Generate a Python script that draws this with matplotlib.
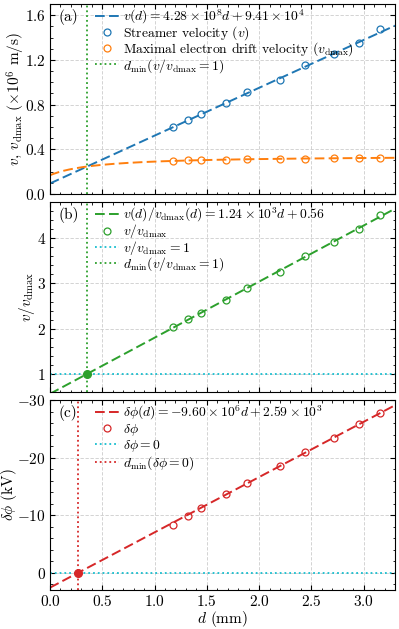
import numpy as np
import matplotlib
matplotlib.use("Agg")
import matplotlib.pyplot as plt
from matplotlib.ticker import MultipleLocator

plt.rcParams.update({
    "font.family": "serif",
    "font.serif": ["cmr10"],
    "mathtext.fontset": "cm",
    "axes.formatter.use_mathtext": True,
    "axes.unicode_minus": True,
    "font.size": 10,
    "xtick.direction": "in",
    "ytick.direction": "in",
    "xtick.top": True,
    "ytick.right": True,
    "xtick.minor.visible": True,
    "ytick.minor.visible": True,
    "xtick.major.size": 3.5,
    "ytick.major.size": 3.5,
    "xtick.minor.size": 1.8,
    "ytick.minor.size": 1.8,
    "axes.linewidth": 0.8,
})

# ---- data (d in mm) ----
d = [1.18, 1.32, 1.44, 1.68, 1.88, 2.20, 2.44, 2.72, 2.96, 3.16]
v = [0.598, 0.664, 0.715, 0.810, 0.909, 1.023, 1.151, 1.253, 1.349, 1.474]   # 1e6 m/s
v_dmax = [0.296, 0.302, 0.305, 0.308, 0.311, 0.314, 0.317, 0.320, 0.320, 0.323]
ratio = [2.03, 2.21, 2.35, 2.63, 2.90, 3.26, 3.61, 3.91, 4.21, 4.52]
dphi = [-8.28, -9.84, -11.29, -13.67, -15.52, -18.47, -21.02, -23.39, -25.77, -27.74]  # kV

# fit parameters (SI units, as in legend)
v_slope, v_icpt = 4.28e8, 9.41e4
r_slope, r_icpt = 1.24e3, 0.56
p_slope, p_icpt = -9.60e6, 2.59e3

d_fit = np.linspace(0, 3.3, 200)
v_fit = (v_slope * d_fit * 1e-3 + v_icpt) / 1e6
r_fit = r_slope * d_fit * 1e-3 + r_icpt
vd_fit = v_fit / r_fit
p_fit = (p_slope * d_fit * 1e-3 + p_icpt) / 1e3
d_min_r = (1 - r_icpt) / r_slope * 1e3
d_min_p = -p_icpt / p_slope * 1e3

c_blue, c_orange, c_green, c_red, c_cyan = "#1f77b4", "#ff7f0e", "#2ca02c", "#d62728", "#17becf"

fig = plt.figure(figsize=(3.99, 6.29), dpi=100)
W, H = 399, 629
left, right = 50 / W, 395 / W
panels = [(4, 194), (202, 392), (400, 590)]
axes = []
for top, bot in panels:
    ax = fig.add_axes([left, 1 - bot / H, right - left, (bot - top) / H])
    axes.append(ax)

dash = (0, (5, 2.2))
lw = 1.4
ms = 5
mew = 0.9

for ax in axes:
    ax.set_xlim(0, 3.3)
    ax.grid(True, which="major", color="#cccccc", linestyle=(0, (4, 2)), linewidth=0.6)
    ax.set_axisbelow(True)
    ax.xaxis.set_major_locator(MultipleLocator(0.5))
    ax.xaxis.set_minor_locator(MultipleLocator(0.1))

# (a)
ax = axes[0]
ax.plot(d_fit, v_fit, ls=dash, color=c_blue, lw=lw,
        label=r"$v(d) = 4.28\times10^{8}d + 9.41\times10^{4}$")
ax.plot(d, v, "o", mfc="none", mec=c_blue, ms=ms, mew=mew, label=r"Streamer velocity ($v$)")
ax.plot(d_fit, vd_fit, ls=dash, color=c_orange, lw=lw)
ax.plot(d, v_dmax, "o", mfc="none", mec=c_orange, ms=ms, mew=mew,
        label=r"Maximal electron drift velocity ($v_\mathrm{dmax}$)")
ax.axvline(d_min_r, color=c_green, ls=":", lw=1.3,
           label=r"$d_\mathrm{min}(v/v_\mathrm{dmax}=1)$")
ax.set_ylim(0, 1.7)
ax.yaxis.set_major_locator(MultipleLocator(0.4))
ax.yaxis.set_minor_locator(MultipleLocator(0.1))
ax.set_ylabel(r"$v$, $v_\mathrm{dmax}$ ($\times10^6$ m/s)", fontsize=11)
ax.set_xticklabels([])

# (b)
ax = axes[1]
ax.plot(d_fit, r_fit, ls=dash, color=c_green, lw=lw,
        label=r"$v(d)/v_\mathrm{dmax}(d) = 1.24\times10^{3}d + 0.56$")
ax.plot(d, ratio, "o", mfc="none", mec=c_green, ms=ms, mew=mew, label=r"$v/v_\mathrm{dmax}$")
ax.axhline(1, color=c_cyan, ls=":", lw=1.3, label=r"$v/v_\mathrm{dmax}=1$")
ax.axvline(d_min_r, color=c_green, ls=":", lw=1.3,
           label=r"$d_\mathrm{min}(v/v_\mathrm{dmax}=1)$")
ax.plot([d_min_r], [1], "o", color=c_green, ms=5.5)
ax.set_ylim(0.6, 4.8)
ax.yaxis.set_major_locator(MultipleLocator(1))
ax.yaxis.set_minor_locator(MultipleLocator(0.2))
ax.set_ylabel(r"$v/v_\mathrm{dmax}$", fontsize=11)
ax.set_xticklabels([])

# (c)
ax = axes[2]
ax.plot(d_fit, p_fit, ls=dash, color=c_red, lw=lw,
        label=r"$\delta\phi(d) = -9.60\times10^{6}d + 2.59\times10^{3}$")
ax.plot(d, dphi, "o", mfc="none", mec=c_red, ms=ms, mew=mew, label=r"$\delta\phi$")
ax.axhline(0, color=c_cyan, ls=":", lw=1.3, label=r"$\delta\phi=0$")
ax.axvline(d_min_p, color=c_red, ls=":", lw=1.3, label=r"$d_\mathrm{min}(\delta\phi=0)$")
ax.plot([d_min_p], [0], "o", color=c_red, ms=5.5)
ax.set_ylim(3, -30)
ax.yaxis.set_major_locator(MultipleLocator(10))
ax.yaxis.set_minor_locator(MultipleLocator(2))
ax.set_ylabel(r"$\delta\phi$ (kV)", fontsize=11)
ax.set_xlabel(r"$d$ (mm)", fontsize=11, labelpad=0)

label_x = [-0.100, -0.068, -0.120]
spacing = [-0.12, -0.12, 0.0]
for ax, lab, lx, sp in zip(axes, ["(a)", "(b)", "(c)"], label_x, spacing):
    ax.tick_params(labelsize=11, pad=3)
    ax.yaxis.set_label_coords(lx, 0.5)
    ax.yaxis.label.set_verticalalignment("center")
    ax.text(0.025, 0.975, lab, transform=ax.transAxes, ha="left", va="top", fontsize=11)
    ax.legend(loc="upper left", bbox_to_anchor=(0.13, 0.98), frameon=False, fontsize=9.8,
              handlelength=1.8, handletextpad=0.3, labelspacing=sp,
              borderpad=0, borderaxespad=0)

fig.savefig("out.png", dpi=100)
